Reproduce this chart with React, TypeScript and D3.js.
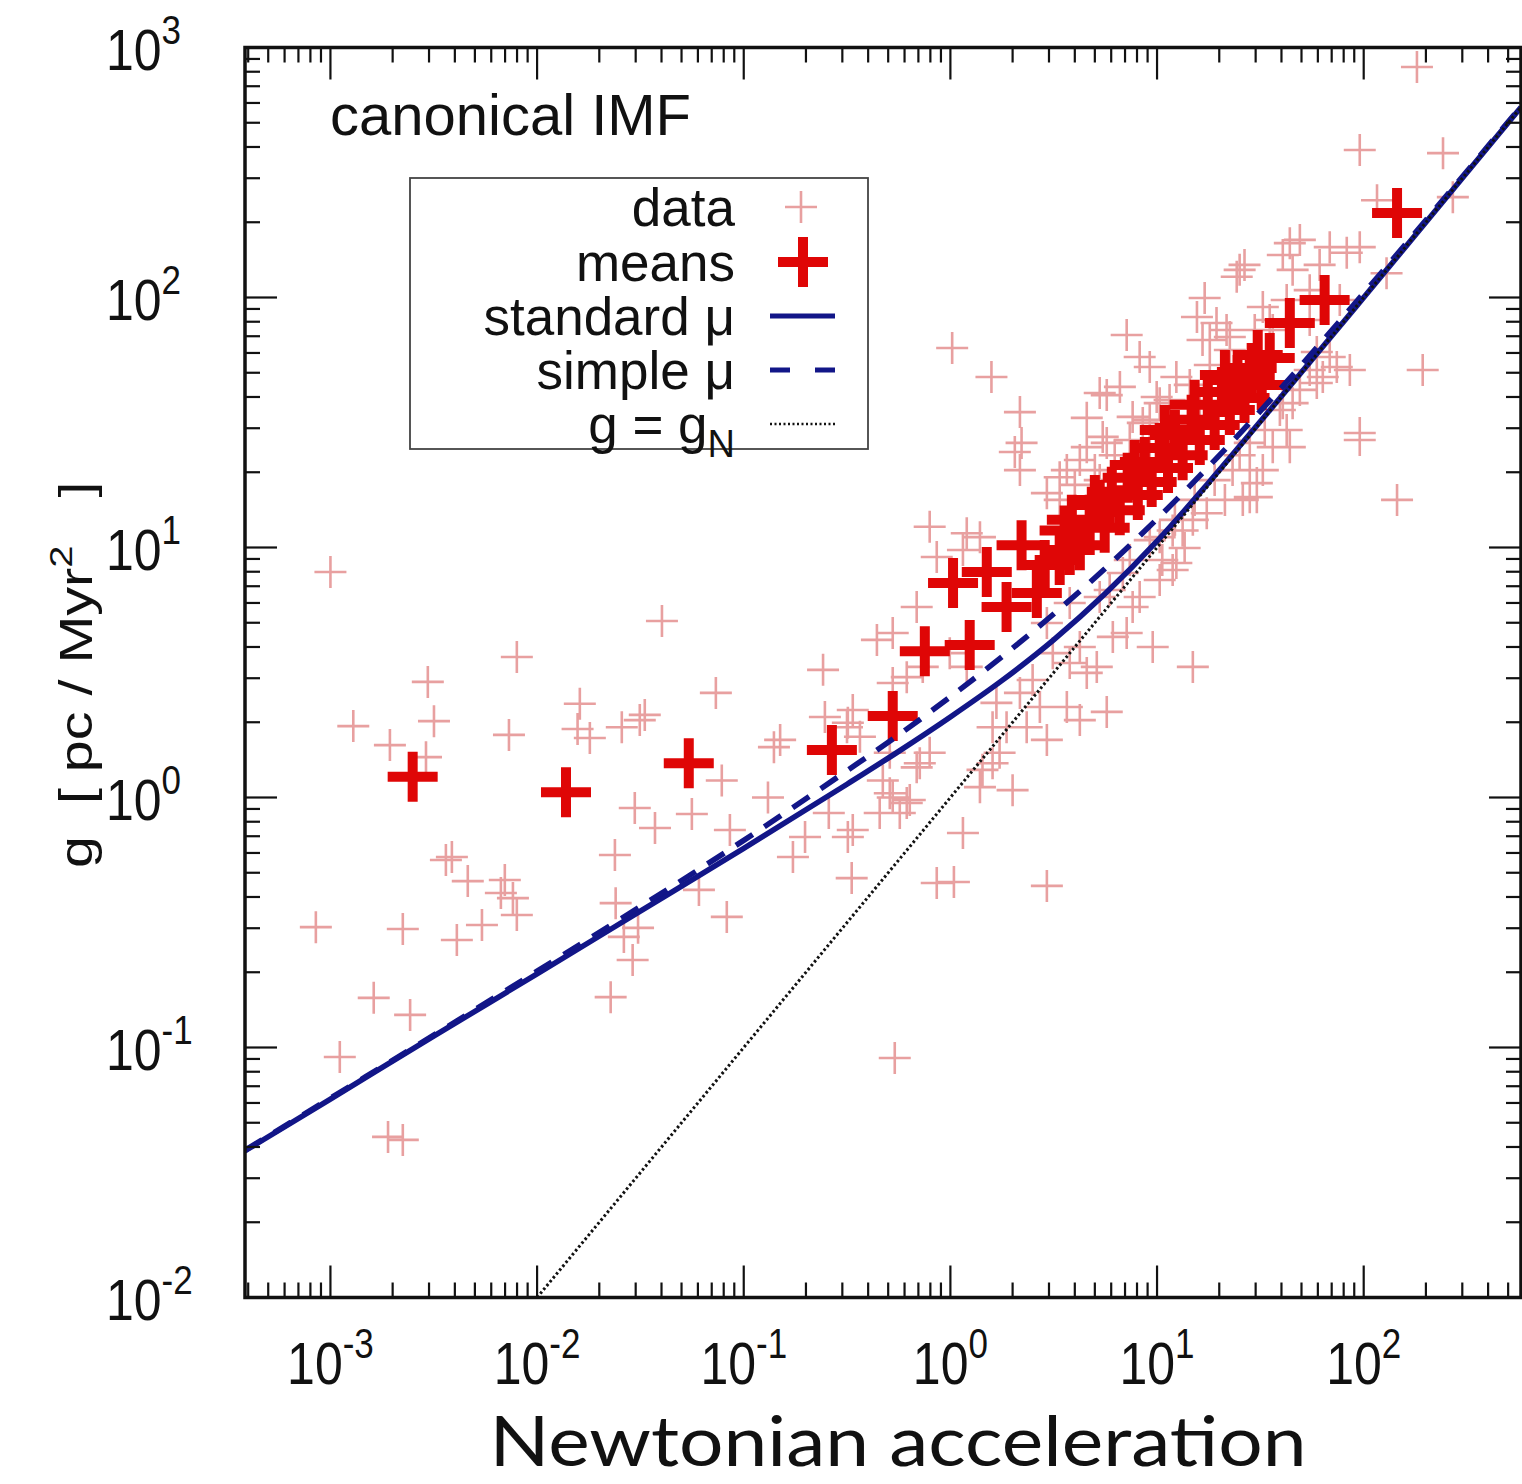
import React from 'react';
import * as d3 from 'd3';

// Axis extents (log–log)
const xDomain: [number, number] = [3.86e-4, 577];
const yDomain: [number, number] = [0.01, 1000];
const xTickExponents = [-3, -2, -1, 0, 1, 2];
const yTickExponents = [-2, -1, 0, 1, 2, 3];

// Individual measurements: [g_N, g]
const dataPoints: [number, number][] = [
  [1.0e-3, 7.98], [0.0402, 5.08], [7.98e-3, 3.65], [2.96e-3, 2.9], [0.0733, 2.62], [0.242, 3.24],
  [1.29e-3, 1.93], [3.17e-3, 2.02], [1.94e-3, 1.62], [2.9e-3, 1.45], [7.31e-3, 1.78], [0.0161, 2.37],
  [0.0157, 1.88], [0.018, 1.73], [0.0257, 1.91], [0.0314, 2.04], [0.0332, 2.14], [0.0783, 1.17],
  [0.15, 1.7], [0.14, 1.59], [0.247, 2.1], [0.319, 1.99], [0.0297, 0.908], [0.0372, 0.755],
  [0.0561, 0.859], [0.0857, 0.741], [0.131, 1.0], [0.258, 0.867], [0.198, 0.695], [0.173, 0.578],
  [0.319, 0.695], [0.333, 0.476], [0.0238, 0.589], [3.62e-3, 0.562], [3.87e-3, 0.578], [4.62e-3, 0.463],
  [6.98e-3, 0.468], [6.68e-3, 0.415], [7.64e-3, 0.396], [7.98e-3, 0.339], [0.024, 0.378], [0.0607, 0.427],
  [8.5e-4, 0.303], [2.24e-3, 0.298], [4.09e-3, 0.269], [5.41e-3, 0.309], [1.62e-3, 0.158], [2.43e-3, 0.135],
  [1.11e-3, 0.0916], [1.9e-3, 0.0439], [2.24e-3, 0.0427], [0.0308, 0.301], [0.0263, 0.277], [0.029, 0.224],
  [0.0227, 0.159], [0.0828, 0.333], [0.538, 0.0908], [0.526, 4.55], [0.509, 1.04], [0.636, 0.977],
  [0.569, 0.867], [0.526, 2.87], [0.711, 1.37], [0.859, 0.455], [1.04, 0.459], [2.93, 0.443],
  [0.794, 12.1], [1.2, 11.4], [0.859, 9.16], [0.687, 5.78], [0.441, 4.27], [0.615, 3.03], [0.337, 2.24],
  [0.316, 1.91], [0.365, 1.75], [0.509, 1.51], [0.794, 1.51], [0.687, 1.32], [0.471, 1.17], [0.526, 1.0],
  [0.615, 0.951], [0.455, 0.867], [0.337, 0.741], [1.15, 0.721], [1.39, 1.1], [1.43, 1.29], [1.6, 1.37],
  [2.0, 1.07], [1.73, 1.51], [2.34, 1.91], [2.93, 1.7], [1.87, 1.91], [2.71, 2.3], [3.66, 2.3], [4.23, 2.04],
  [5.71, 2.2], [4.57, 3.15], [5.11, 3.33], [3.78, 3.45], [3.13, 3.78], [4.23, 4.0], [6.11, 4.39], [7.13, 4.55],
  [9.53, 4.0], [14.9, 3.33], [7.62, 5.78], [10.3, 7.41], [11.9, 8.13], [8.24, 6.34], [10.6, 8.91], [14.9, 12.9],
  [11.9, 11.7], [2.5, 2.95], [2.17, 2.62], [1.67, 2.39], [1.2, 3.33], [0.993, 3.78], [0.735, 3.33], [1.6, 1.91],
  [6.83, 7.91], [5.28, 6.34], [3.78, 6.0], [2.93, 4.99],
  [1.02, 62.8], [1.58, 48.1], [2.17, 34.8], [7.13, 70.8], [2.21, 26.2], [2.05, 24.1], [2.17, 20.4], [9.22, 52.7],
  [6.61, 43.9], [5.71, 40.7], [4.57, 33.0], [5.46, 27.7], [4.23, 22.4], [3.66, 20.4], [2.93, 16.5], [4.57, 25.2],
  [17.0, 99.5], [24.3, 121], [15.6, 83.6], [43.9, 165], [45.3, 129], [8.24, 57.8], [18.0, 67.6], [21.7, 74.1],
  [7.62, 33.3], [9.96, 40.0], [23.2, 20.4], [30.4, 15.9], [36.3, 25.2], [42.4, 29.5], [28.1, 26.2], [17.4, 13.7],
  [1.39, 11.0], [1.15, 9.77],
  [181, 836], [95.7, 389], [242, 378], [270, 252], [116, 245], [49.1, 170], [68.5, 159], [82.8, 151], [95.7, 159],
  [129, 125], [32.5, 91.6], [19.4, 79.1], [85.7, 51.3], [193, 51.3], [63.4, 48.1], [45.3, 37.8], [43.9, 25.2],
  [95.7, 28.7], [95.7, 26.9], [145, 15.5], [28.1, 20.4], [26.0, 15.5], [30.4, 18.1], [13.3, 11.7], [68.5, 57.8],
  [5.28, 41.5], [5.71, 26.2], [3.38, 19.1], [8.53, 31.5], [10.3, 37.8], [12.4, 48.1], [16.6, 67.6], [22.5, 69.5],
  [40.6, 37.8], [59.3, 45.5], [74.1, 52.7], [32.5, 20.4], [28.1, 15.9], [12.4, 8.67], [10.3, 11.0],
  [59.3, 60.5], [40.6, 148], [25.1, 129], [36.3, 74.1], [54.8, 107], [42.4, 97.7],
  [5.28, 18.6], [9.22, 25.7], [16.1, 37.2], [25.1, 53.7],
  [3.38, 15.5], [4.0, 17.8], [5.0, 20.4], [6.24, 23.4], [7.38, 26.9], [9.22, 32.4], [11.5, 38.9], [14.4, 44.7],
  [18.0, 53.7], [22.5, 61.7], [29.7, 74.1], [35.1, 81.3],
  [7.38, 8.91], [9.22, 10.7], [12.2, 12.9], [15.2, 15.5], [19.0, 18.6], [25.1, 23.4], [33.2, 29.5], [39.3, 35.5],
  [49.1, 42.7], [54.8, 51.3], [21.3, 15.5], [13.6, 9.95], [5.9, 6.76],
  [26.5, 135], [61.2, 135], [76.6, 97.7], [54.8, 81.3],
];

// Binned means: [g_N, g]
const meanPoints: [number, number][] = [
  [2.5e-3, 1.21], [0.0138, 1.05], [0.0542, 1.37], [0.267, 1.55], [0.526, 2.12], [0.752, 3.85],
  [1.24, 4.07], [1.03, 7.21], [1.5, 7.98], [1.87, 5.78], [2.62, 6.58], [2.21, 10.2], [3.78, 9.77],
  [3.38, 8.91], [3.57, 11.7], [4.23, 10.2], [4.72, 12.9], [5.0, 15.5], [5.58, 12.0], [6.04, 16.7],
  [6.6, 14.1], [7.21, 19.0], [8.07, 16.2], [8.73, 22.0], [9.42, 18.3], [10.3, 25.0], [11.3, 20.8],
  [12.2, 28.2], [13.3, 23.4], [14.7, 32.4], [16.1, 26.9], [17.6, 37.2], [19.0, 30.9], [20.6, 41.9],
  [22.5, 35.5], [24.5, 46.8], [26.5, 39.6], [28.7, 52.2], [32.1, 44.7], [35.1, 57.3], [43.9, 79.1],
  [64.7, 97.7], [145, 218],
  [2.86, 8.51], [3.87, 12.9], [7.8, 21.4], [10.9, 29.5], [15.2, 37.2], [21.3, 49.0], [30.7, 58.9], [5.28, 14.8],
];

// Model curves: [g_N, g]
const standardMuCurve: [number, number][] = [
  [3.86e-4, 0.0386], [1e-3, 0.0622], [3.16e-3, 0.111], [0.01, 0.197], [0.0316, 0.351], [0.1, 0.626],
  [0.316, 1.13], [0.562, 1.53], [1, 2.1], [1.78, 2.94], [3.16, 4.27], [5.62, 6.54], [10, 10.6],
  [17.8, 18.2], [31.6, 31.9], [100, 100], [316, 316], [577, 577],
];
const simpleMuCurve: [number, number][] = [
  [3.86e-4, 0.0388], [1e-3, 0.0627], [3.16e-3, 0.112], [0.01, 0.202], [0.0316, 0.366], [0.1, 0.674],
  [0.316, 1.28], [0.562, 1.78], [1, 2.53], [1.78, 3.66], [3.16, 5.42], [5.62, 8.26], [10, 13.0],
  [17.8, 21.1], [31.6, 35.1], [100, 104], [316, 320], [577, 581],
];
const newtonianLine: [number, number][] = [[0.01, 0.01], [577, 577]];

const legendLabels = ['data', 'means', 'standard μ', 'simple μ', 'g = g'];

const PINK = '#e8a0a0';
const RED = '#df0606';
const BLUE = '#121688';
const FONT = "'Liberation Sans', Arial, Helvetica, sans-serif";

const L = 245, R = 1521, T = 47.5, B = 1297.5;

function crossPath(cx: number, cy: number, s: number) {
  return `M${cx - s},${cy}H${cx + s}M${cx},${cy - s}V${cy + s}`;
}

export default function App() {
  const x = d3.scaleLog().domain(xDomain).range([L, R]);
  const y = d3.scaleLog().domain(yDomain).range([B, T]);
  const line = d3
    .line<[number, number]>()
    .x((d) => x(d[0]))
    .y((d) => y(d[1]))
    .curve(d3.curveMonotoneX);

  const xTicks: { v: number; major: boolean }[] = [];
  for (let e = -4; e <= 2; e++) {
    for (let m = 1; m <= 9; m++) {
      const v = m * Math.pow(10, e);
      if (v >= xDomain[0] && v <= xDomain[1]) xTicks.push({ v, major: m === 1 });
    }
  }
  const yTicks: { v: number; major: boolean }[] = [];
  for (let e = -2; e <= 3; e++) {
    for (let m = 1; m <= 9; m++) {
      const v = m * Math.pow(10, e);
      if (v >= yDomain[0] && v <= yDomain[1]) yTicks.push({ v, major: m === 1 });
    }
  }
  const MAJ = 32, MIN = 15;

  const legendRowY = [207, 262, 316, 370, 424];

  return (
    <svg
      width={1522}
      height={1484}
      style={{ position: 'absolute', left: 0, top: 0, background: '#fff' }}
      fontFamily={FONT}
    >
      <rect x={0} y={0} width={1522} height={1484} fill="#fff" />
      <defs>
        <clipPath id="plotArea">
          <rect x={L} y={T} width={R - L} height={B - T} />
        </clipPath>
      </defs>

      <g clipPath="url(#plotArea)">
        <path
          d={dataPoints.map((d) => crossPath(x(d[0]), y(d[1]), 16)).join('')}
          stroke={PINK}
          strokeWidth={2.6}
          fill="none"
        />
        <path
          d={meanPoints.map((d) => crossPath(x(d[0]), y(d[1]), 25)).join('')}
          stroke={RED}
          strokeWidth={10}
          fill="none"
        />
        <path d={line(standardMuCurve) || ''} stroke={BLUE} strokeWidth={5.5} fill="none" />
        <path
          d={line(simpleMuCurve) || ''}
          stroke={BLUE}
          strokeWidth={5.5}
          strokeDasharray="20 14"
          fill="none"
        />
        <path
          d={line(newtonianLine) || ''}
          stroke="#111"
          strokeWidth={3}
          strokeDasharray="2.5 2.5"
          fill="none"
        />
      </g>

      {/* ticks on all four sides */}
      <g stroke="#111" strokeWidth={2.2}>
        {xTicks.map((t, i) => (
          <g key={'xt' + i}>
            <line x1={x(t.v)} x2={x(t.v)} y1={B} y2={B - (t.major ? MAJ : MIN)} />
            <line x1={x(t.v)} x2={x(t.v)} y1={T} y2={T + (t.major ? MAJ : MIN)} />
          </g>
        ))}
        {yTicks.map((t, i) => (
          <g key={'yt' + i}>
            <line y1={y(t.v)} y2={y(t.v)} x1={L} x2={L + (t.major ? MAJ : MIN)} />
            <line y1={y(t.v)} y2={y(t.v)} x1={R} x2={R - (t.major ? MAJ : MIN)} />
          </g>
        ))}
      </g>
      <rect x={L} y={T} width={R - L} height={B - T} fill="none" stroke="#111" strokeWidth={3.5} />

      {/* tick labels */}
      {xTickExponents.map((e) => (
        <text
          key={'xl' + e}
          transform={`translate(${x(Math.pow(10, e))},1384) scale(1,1.2)`}
          textAnchor="middle"
          fontSize={50}
          fill="#111"
        >
          10
          <tspan dy={-22} fontSize={35}>
            {String(e)}
          </tspan>
        </text>
      ))}
      {yTickExponents.map((e) => (
        <text
          key={'yl' + e}
          transform={`translate(106,${y(Math.pow(10, e)) + 22}) scale(1,1.15)`}
          textAnchor="start"
          fontSize={50}
          fill="#111"
        >
          10
          <tspan dy={-22} fontSize={35}>
            {String(e)}
          </tspan>
        </text>
      ))}

      {/* axis titles */}
      <text
        transform="translate(898,1466) scale(1,1.2)"
        textAnchor="middle"
        fontSize={58}
        textLength={817}
        lengthAdjust="spacingAndGlyphs"
        fontFamily="Lato, 'Open Sans', sans-serif"
        fill="#111"
      >
        Newtonian acceleration
      </text>
      <text
        transform="translate(92, 868) rotate(-90) scale(1.25,1)"
        textAnchor="start"
        fontSize={46}
        fill="#111"
        style={{ whiteSpace: 'pre' }}
      >
        {'g  [ pc / Myr'}
        <tspan dy={-20} fontSize={32}>
          2
        </tspan>
        <tspan dy={20}>{'   ]'}</tspan>
      </text>

      {/* panel title */}
      <text x={330} y={135} fontSize={58} fill="#111">
        canonical IMF
      </text>

      {/* legend */}
      <rect x={410} y={178} width={458} height={271} fill="#fff" stroke="#444" strokeWidth={1.8} />
      {legendLabels.map((lab, i) => (
        <text key={'lg' + i} x={735} y={legendRowY[i] + 19} textAnchor="end" fontSize={53} fill="#111">
          {lab}
          {i === 4 && (
            <tspan dy={14} fontSize={38}>
              N
            </tspan>
          )}
        </text>
      ))}
      <path d={crossPath(801, legendRowY[0], 16)} stroke={PINK} strokeWidth={2.6} fill="none" />
      <path d={crossPath(803, legendRowY[1], 25)} stroke={RED} strokeWidth={10} fill="none" />
      <line x1={770} x2={835} y1={legendRowY[2]} y2={legendRowY[2]} stroke={BLUE} strokeWidth={5} />
      <line
        x1={770}
        x2={835}
        y1={legendRowY[3]}
        y2={legendRowY[3]}
        stroke={BLUE}
        strokeWidth={5}
        strokeDasharray="20 25"
      />
      <line
        x1={770}
        x2={835}
        y1={legendRowY[4]}
        y2={legendRowY[4]}
        stroke="#111"
        strokeWidth={2.5}
        strokeDasharray="2 2.5"
      />
    </svg>
  );
}
